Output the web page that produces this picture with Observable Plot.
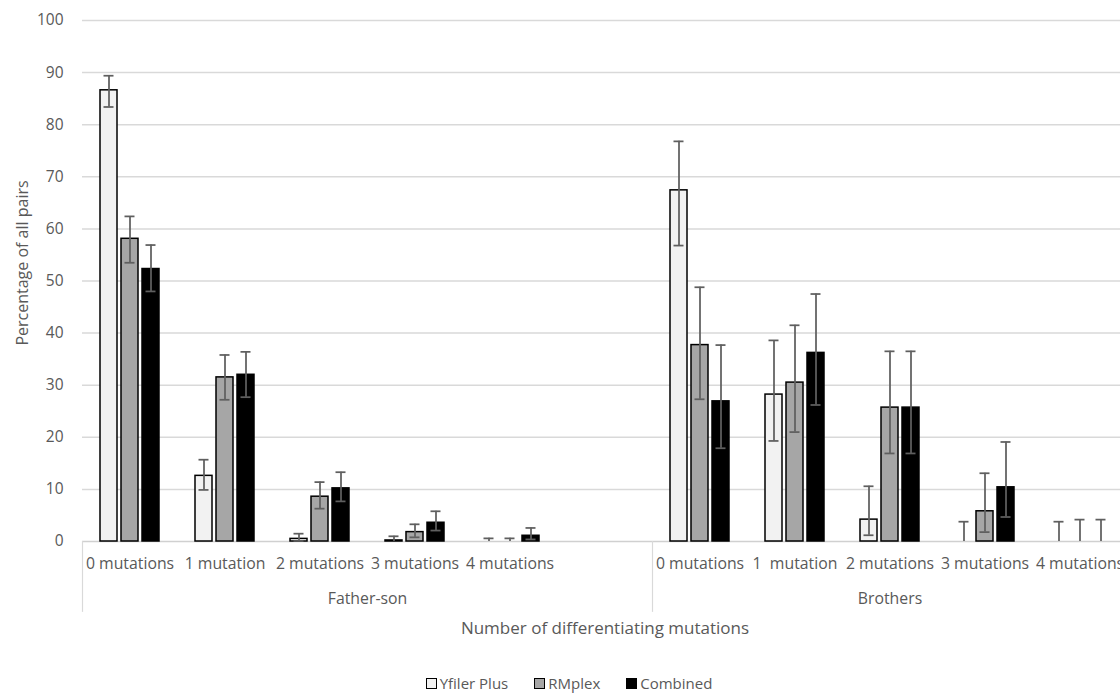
<!DOCTYPE html>
<html>
<head>
<meta charset="utf-8">
<script src="https://cdn.jsdelivr.net/npm/d3@7"></script>
<script src="https://cdn.jsdelivr.net/npm/@observablehq/plot@0.6"></script>
<style>
  html, body { margin: 0; padding: 0; background: #fff; overflow: hidden; }
  #chart svg { display: block; }
  #legend { height: 20px; display: flex; justify-content: center; align-items: center; gap: 26px;
    font-family: "Open Sans", sans-serif; font-size: 15px; color: #595959; padding-left: 18px; }
  #legend span.item { display: inline-flex; align-items: center; gap: 3px; }
  #legend span.sw { display: inline-block; width: 9px; height: 9px; border: 1.5px solid #000; }
</style>
</head>
<body>
<div id="chart"></div>
<div id="legend"></div>
<script>
// ---------- data ----------
const groups = ["Father-son", "Brothers"];
const fatherSonCategories = ["0 mutations", "1 mutation", "2 mutations", "3 mutations", "4 mutations", ""];
const brothersCategories = ["0 mutations", "1  mutation", "2 mutations", "3 mutations", "4 mutations"];
const series = ["Yfiler Plus", "RMplex", "Combined"];
const yTicks = [0, 10, 20, 30, 40, 50, 60, 70, 80, 90, 100];

// Father-son
const fsYfiler    = [86.6, 12.6, 0.5, 0.2, 0];
const fsYfilerLo  = [83.4, 9.9, 0.1, 0, 0];
const fsYfilerHi  = [89.4, 15.7, 1.5, 1.0, 0.6];
const fsRMplex    = [58.1, 31.5, 8.6, 1.8, 0];
const fsRMplexLo  = [53.5, 27.2, 6.3, 0.8, 0];
const fsRMplexHi  = [62.4, 35.8, 11.4, 3.3, 0.6];
const fsCombined   = [52.3, 32.0, 10.2, 3.6, 1.1];
const fsCombinedLo = [48.0, 27.7, 7.7, 2.1, 0.4];
const fsCombinedHi = [56.9, 36.4, 13.3, 5.8, 2.6];

// Brothers
const brYfiler    = [67.4, 28.2, 4.2, 0, 0];
const brYfilerLo  = [56.8, 19.3, 1.2, 0, 0];
const brYfilerHi  = [76.8, 38.6, 10.6, 3.8, 3.8];
const brRMplex    = [37.7, 30.5, 25.7, 5.8, 0];
const brRMplexLo  = [27.3, 21.0, 16.9, 1.8, 0];
const brRMplexHi  = [48.8, 41.5, 36.5, 13.1, 4.2];
const brCombined   = [26.9, 36.2, 25.7, 10.4, 0];
const brCombinedLo = [17.9, 26.2, 16.9, 4.7, 0];
const brCombinedHi = [37.7, 47.5, 36.5, 19.1, 4.2];

// ---------- build tables ----------
const groupCats = [fatherSonCategories, brothersCategories];
const slotRows = [];
groups.forEach((g, gi) => groupCats[gi].forEach((c, i) => slotRows.push({slot: g + "|" + i, label: c, group: g})));
const slots = slotRows.map(d => d.slot);

const valueSets = [
  [[fsYfiler, fsYfilerLo, fsYfilerHi], [fsRMplex, fsRMplexLo, fsRMplexHi], [fsCombined, fsCombinedLo, fsCombinedHi]],
  [[brYfiler, brYfilerLo, brYfilerHi], [brRMplex, brRMplexLo, brRMplexHi], [brCombined, brCombinedLo, brCombinedHi]]
];
const rows = [];
groups.forEach((g, gi) => series.forEach((s, si) => {
  const [v, lo, hi] = valueSets[gi][si];
  v.forEach((val, i) => rows.push({slot: g + "|" + i, series: s, value: val, lo: lo[i], hi: hi[i]}));
}));

// ---------- styles ----------
const fills = ["#f2f2f2", "#a6a6a6", "#000000"];
const textColor = "#595959";
const errColor = "#5f5f5f";
const barStep = 21;

const marks = [
  Plot.ruleY(yTicks.filter(t => t > 0), {stroke: "#d9d9d9", strokeWidth: 1.5}),
  Plot.ruleY([0], {stroke: "#d0d0d0", strokeWidth: 1.5}),
  Plot.ruleX(groups.map(g => g + "|0"), {x: d => d, dx: -47.5, y1: 0, y2: -13.6, stroke: "#d9d9d9", strokeWidth: 1.2})
];
series.forEach((s, j) => {
  const d = rows.filter(r => r.series === s);
  const dx = (j - 1) * barStep;
  marks.push(Plot.barY(d.filter(r => r.value > 0), {x: "slot", y: "value", dx, insetLeft: 39, insetRight: 39,
    fill: fills[j], stroke: "#000", strokeWidth: 1.5}));
  marks.push(Plot.ruleX(d, {x: "slot", y1: "lo", y2: "hi", dx, stroke: errColor, strokeWidth: 1.75}));
  marks.push(Plot.tickY(d, {x: "slot", y: "hi", dx, insetLeft: 42.5, insetRight: 42.5, stroke: errColor, strokeWidth: 1.75}));
  marks.push(Plot.tickY(d.filter(r => r.lo > 0), {x: "slot", y: "lo", dx, insetLeft: 42.5, insetRight: 42.5, stroke: errColor, strokeWidth: 1.75}));
});
// category labels
marks.push(Plot.text(slotRows, {x: "slot", text: "label", frameAnchor: "bottom", dy: 27, fill: textColor, fontSize: 15.8}));
// group labels (Father-son spans six slots, Brothers five)
marks.push(Plot.text([groups[0]], {x: () => groups[0] + "|2", text: d => d, dx: 47.5, frameAnchor: "bottom", dy: 62, fill: textColor, fontSize: 15.8}));
marks.push(Plot.text([groups[1]], {x: () => groups[1] + "|2", text: d => d, frameAnchor: "bottom", dy: 62, fill: textColor, fontSize: 15.8}));
// axis titles
marks.push(Plot.text(["Number of differentiating mutations"], {text: d => d, frameAnchor: "bottom", dy: 92, fill: textColor, fontSize: 17}));
marks.push(Plot.text(["Percentage of all pairs"], {text: d => d, frameAnchor: "left", textAnchor: "middle", dx: -60, dy: -18, rotate: -90, fill: textColor, fontSize: 16}));

const chart = Plot.plot({
  width: 1120,
  height: 673,
  marginLeft: 82,
  marginRight: -7,
  marginTop: 20,
  marginBottom: 132,
  style: {fontFamily: "'Open Sans', sans-serif", fontSize: "15.5px", color: textColor, background: "#fff"},
  x: {type: "band", domain: slots, padding: 0, axis: null},
  y: {domain: [0, 100], ticks: yTicks, tickSize: 0, tickPadding: 19, label: null, tickFormat: d => String(d)},
  marks
});
document.getElementById("chart").appendChild(chart);

// legend
const legend = document.getElementById("legend");
series.forEach((s, j) => {
  const item = document.createElement("span");
  item.className = "item";
  const sw = document.createElement("span");
  sw.className = "sw";
  sw.style.background = fills[j];
  item.appendChild(sw);
  item.appendChild(document.createTextNode(s));
  legend.appendChild(item);
});
</script>
</body>
</html>
